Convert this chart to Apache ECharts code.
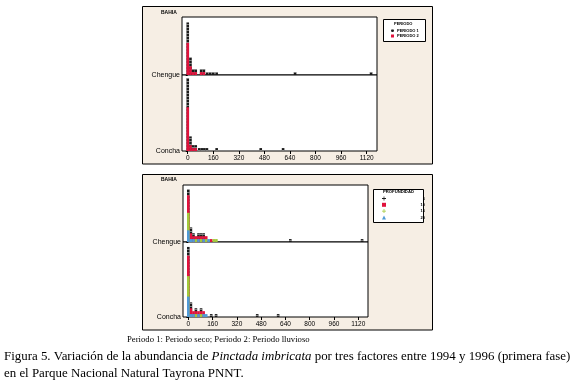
<!DOCTYPE html>
<html>
<head>
<meta charset="utf-8">
<script src="https://cdn.jsdelivr.net/npm/echarts@6/dist/echarts.min.js"></script>
<style>
  html, body { margin: 0; padding: 0; background: #fff; }
  #chart { width: 574px; height: 384px; }
</style>
</head>
<body>
<div id="chart"></div>
<script>
// dotplot counts (number of stacked symbols per bin)
var tickValues = [0, 160, 320, 480, 640, 800, 960, 1120];

// panel 1: PERIODO
var perChengueX = [0, 17, 34, 50, 84, 101, 122, 141, 160, 181, 672, 1148];
var perChengueP2 = [11, 3, 1, 1, 1, 1, 0, 0, 0, 0, 0, 0];
var perChengueP1 = [7, 3, 1, 1, 1, 1, 1, 1, 1, 1, 1, 1];
var perConchaX = [0, 17, 34, 50, 72, 88, 104, 120, 181, 457, 597];
var perConchaP2 = [15, 2, 1, 1, 0, 0, 0, 0, 0, 0, 0];
var perConchaP1 = [10, 3, 1, 1, 1, 1, 1, 1, 1, 1, 1];

// panel 2: PROFUNDIDAD
var proChengueX = [0, 17, 34, 50, 67, 84, 101, 118, 134, 151, 168, 185, 672, 1145];
var proChengueD20 = [4, 1, 1, 0, 1, 0, 1, 0, 1, 0, 0, 0, 0, 0];
var proChengueD15 = [6, 0, 0, 1, 0, 1, 0, 1, 0, 0, 1, 1, 0, 0];
var proChengueD10 = [6, 2, 1, 1, 1, 1, 1, 1, 0, 1, 0, 0, 0, 0];
var proChengueD5 = [2, 2, 1, 0, 1, 1, 1, 0, 0, 0, 0, 0, 1, 1];
var proConchaX = [0, 17, 34, 50, 67, 84, 101, 118, 151, 183, 454, 592];
var proConchaD20 = [7, 1, 1, 0, 1, 0, 1, 1, 0, 0, 0, 0];
var proConchaD15 = [7, 0, 0, 1, 0, 1, 0, 0, 0, 0, 0, 0];
var proConchaD10 = [7, 2, 1, 1, 1, 1, 1, 0, 0, 0, 0, 0];
var proConchaD5 = [3, 2, 0, 1, 0, 1, 0, 0, 1, 1, 1, 1];

var BLACK = "#1a1a1a", RED = "#e0123c", GREEN = "#a3c93a", BLUE = "#4f9ad6";
var SYM = 2.92; // px per stacked symbol

var grids = [
  { left: 182, top: 17, width: 195, height: 58 },
  { left: 182, top: 75, width: 195, height: 76 },
  { left: 183, top: 185, width: 185, height: 57 },
  { left: 183, top: 242, width: 185, height: 75 }
];
var xRanges = [[-36, 1185], [-36, 1185], [-35, 1184], [-35, 1184]];
var rowNames = ["Chengue", "Concha", "Chengue", "Concha"];

// groups listed bottom -> top; each drawn as a bar up to its cumulative top,
// topmost first so the lower groups paint over it
function dotColumns(idx, xs, groups) {
  var cum = [];
  var run = xs.map(function () { return 0; });
  groups.forEach(function (g) {
    run = run.map(function (v, i) { return v + g.vals[i]; });
    cum.push(run.slice());
  });
  var out = [];
  for (var k = groups.length - 1; k >= 0; k--) {
    var g = groups[k];
    out.push({
      name: g.name,
      type: "bar",
      xAxisIndex: idx,
      yAxisIndex: idx,
      barWidth: 2.6,
      barGap: "-100%",
      itemStyle: g.black ? {
        color: g.color,
        decal: { symbol: "rect", symbolSize: 1, color: "rgba(255,255,255,0.45)", dashArrayX: [1, 0], dashArrayY: [1, 2] }
      } : { color: g.color },
      data: xs.map(function (x, i) { return g.vals[i] > 0 ? [x, cum[k][i]] : [x, 0]; })
    });
  }
  return out;
}

var chart = echarts.init(document.getElementById("chart"));
var option = {
  animation: false,
  grid: grids.map(function (g) {
    return {
      left: g.left, top: g.top, width: g.width, height: g.height,
      show: true, backgroundColor: "#fff", borderColor: "#000", borderWidth: 1
    };
  }),
  xAxis: grids.map(function (g, i) {
    return {
      type: "value",
      gridIndex: i,
      min: xRanges[i][0],
      max: xRanges[i][1],
      show: i % 2 === 1,
      axisLine: { show: false },
      splitLine: { show: false },
      axisTick: { show: true, length: 3, customValues: tickValues, lineStyle: { color: "#000" } },
      axisLabel: {
        customValues: tickValues, margin: 4,
        fontSize: 6.5, fontFamily: "Liberation Sans", color: "#000",
        formatter: function (v) { return String(v); }
      }
    };
  }),
  yAxis: grids.map(function (g, i) {
    return {
      type: "value",
      gridIndex: i,
      min: 0,
      max: g.height / SYM,
      axisLine: { show: false },
      splitLine: { show: false },
      axisTick: { show: true, length: 2, customValues: [0], lineStyle: { color: "#000" } },
      axisLabel: {
        customValues: [0], margin: 2,
        fontSize: 7, fontFamily: "Liberation Sans", color: "#000",
        formatter: function () { return rowNames[i]; }
      }
    };
  }),
  legend: [
    {
      left: 386, top: 23.5, orient: "vertical",
      itemWidth: 3, itemHeight: 3, itemGap: 1.5,
      textStyle: { fontSize: 4, fontFamily: "Liberation Sans", fontWeight: "bold", color: "#000", padding: [0, 0, 0, -2] },
      data: [{ name: "PERIODO 1", icon: "circle" }, { name: "PERIODO 2", icon: "rect" }]
    },
    {
      left: 377, top: 191.5, orient: "vertical",
      itemWidth: 4, itemHeight: 4, itemGap: 2.3,
      textStyle: {
        fontSize: 4, fontFamily: "Liberation Sans", fontWeight: "bold", color: "#000",
        rich: { n: { width: 34, align: "right", fontSize: 4, fontWeight: "bold" } }
      },
      formatter: function (name) { return "{n|" + name + "}"; },
      data: [
        { name: "5", icon: "path://M4,0H6V4H10V6H6V10H4V6H0V4H4Z" },
        { name: "10", icon: "rect" },
        { name: "15", icon: "path://M4,0H6V4H10V6H6V10H4V6H0V4H4Z" },
        { name: "20", icon: "triangle" }
      ]
    }
  ],
  graphic: [
    { type: "rect", z: -10, shape: { x: 142.5, y: 6.5, width: 290, height: 157.5 },
      style: { fill: "#f6eee4", stroke: "#000", lineWidth: 1 } },
    { type: "rect", z: -10, shape: { x: 142.5, y: 174.5, width: 290, height: 155.5 },
      style: { fill: "#f6eee4", stroke: "#000", lineWidth: 1 } },
    { type: "rect", z: -5, shape: { x: 383.5, y: 19.5, width: 42, height: 22 },
      style: { fill: "#fff", stroke: "#000", lineWidth: 1 } },
    { type: "rect", z: -5, shape: { x: 373.5, y: 189.5, width: 50, height: 33 },
      style: { fill: "#fff", stroke: "#000", lineWidth: 1 } },
    { type: "text", left: 161, top: 10, style: { text: "BAHIA", fontSize: 5, fontWeight: "bold", fontFamily: "Liberation Sans", fill: "#000" } },
    { type: "text", left: 161, top: 177, style: { text: "BAHIA", fontSize: 5, fontWeight: "bold", fontFamily: "Liberation Sans", fill: "#000" } },
    { type: "text", left: 394, top: 21.5, style: { text: "PERIODO", fontSize: 4, fontWeight: "bold", fontFamily: "Liberation Sans", fill: "#000" } },
    { type: "text", left: 383, top: 189.5, style: { text: "PROFUNDIDAD", fontSize: 4.2, fontWeight: "bold", fontFamily: "Liberation Sans", fill: "#000" } },
    { type: "text", left: 127, top: 335, style: { text: "Periodo 1: Periodo seco; Periodo 2: Periodo lluvioso", fontSize: 8.7, fontFamily: "Liberation Serif", fill: "#000" } },
    { type: "text", left: 4, top: 350, style: {
        text: "Figura 5. Variación de la abundancia de {i|Pinctada imbricata} por tres factores entre 1994 y 1996 (primera fase)",
        fontSize: 12.9, fontFamily: "Liberation Serif", fill: "#000",
        rich: { i: { fontStyle: "italic", fontSize: 12.9, fontFamily: "Liberation Serif" } }
      } },
    { type: "text", left: 4, top: 367, style: { text: "en el Parque Nacional Natural Tayrona PNNT.", fontSize: 12.9, fontFamily: "Liberation Serif", fill: "#000" } }
  ],
  series: [].concat(
    dotColumns(0, perChengueX, [
      { name: "PERIODO 2", vals: perChengueP2, color: RED },
      { name: "PERIODO 1", vals: perChengueP1, color: BLACK, black: true }
    ]),
    dotColumns(1, perConchaX, [
      { name: "PERIODO 2", vals: perConchaP2, color: RED },
      { name: "PERIODO 1", vals: perConchaP1, color: BLACK, black: true }
    ]),
    dotColumns(2, proChengueX, [
      { name: "20", vals: proChengueD20, color: BLUE },
      { name: "15", vals: proChengueD15, color: GREEN },
      { name: "10", vals: proChengueD10, color: RED },
      { name: "5", vals: proChengueD5, color: BLACK, black: true }
    ]),
    dotColumns(3, proConchaX, [
      { name: "20", vals: proConchaD20, color: BLUE },
      { name: "15", vals: proConchaD15, color: GREEN },
      { name: "10", vals: proConchaD10, color: RED },
      { name: "5", vals: proConchaD5, color: BLACK, black: true }
    ])
  )
};
chart.setOption(option);
</script>
</body>
</html>
